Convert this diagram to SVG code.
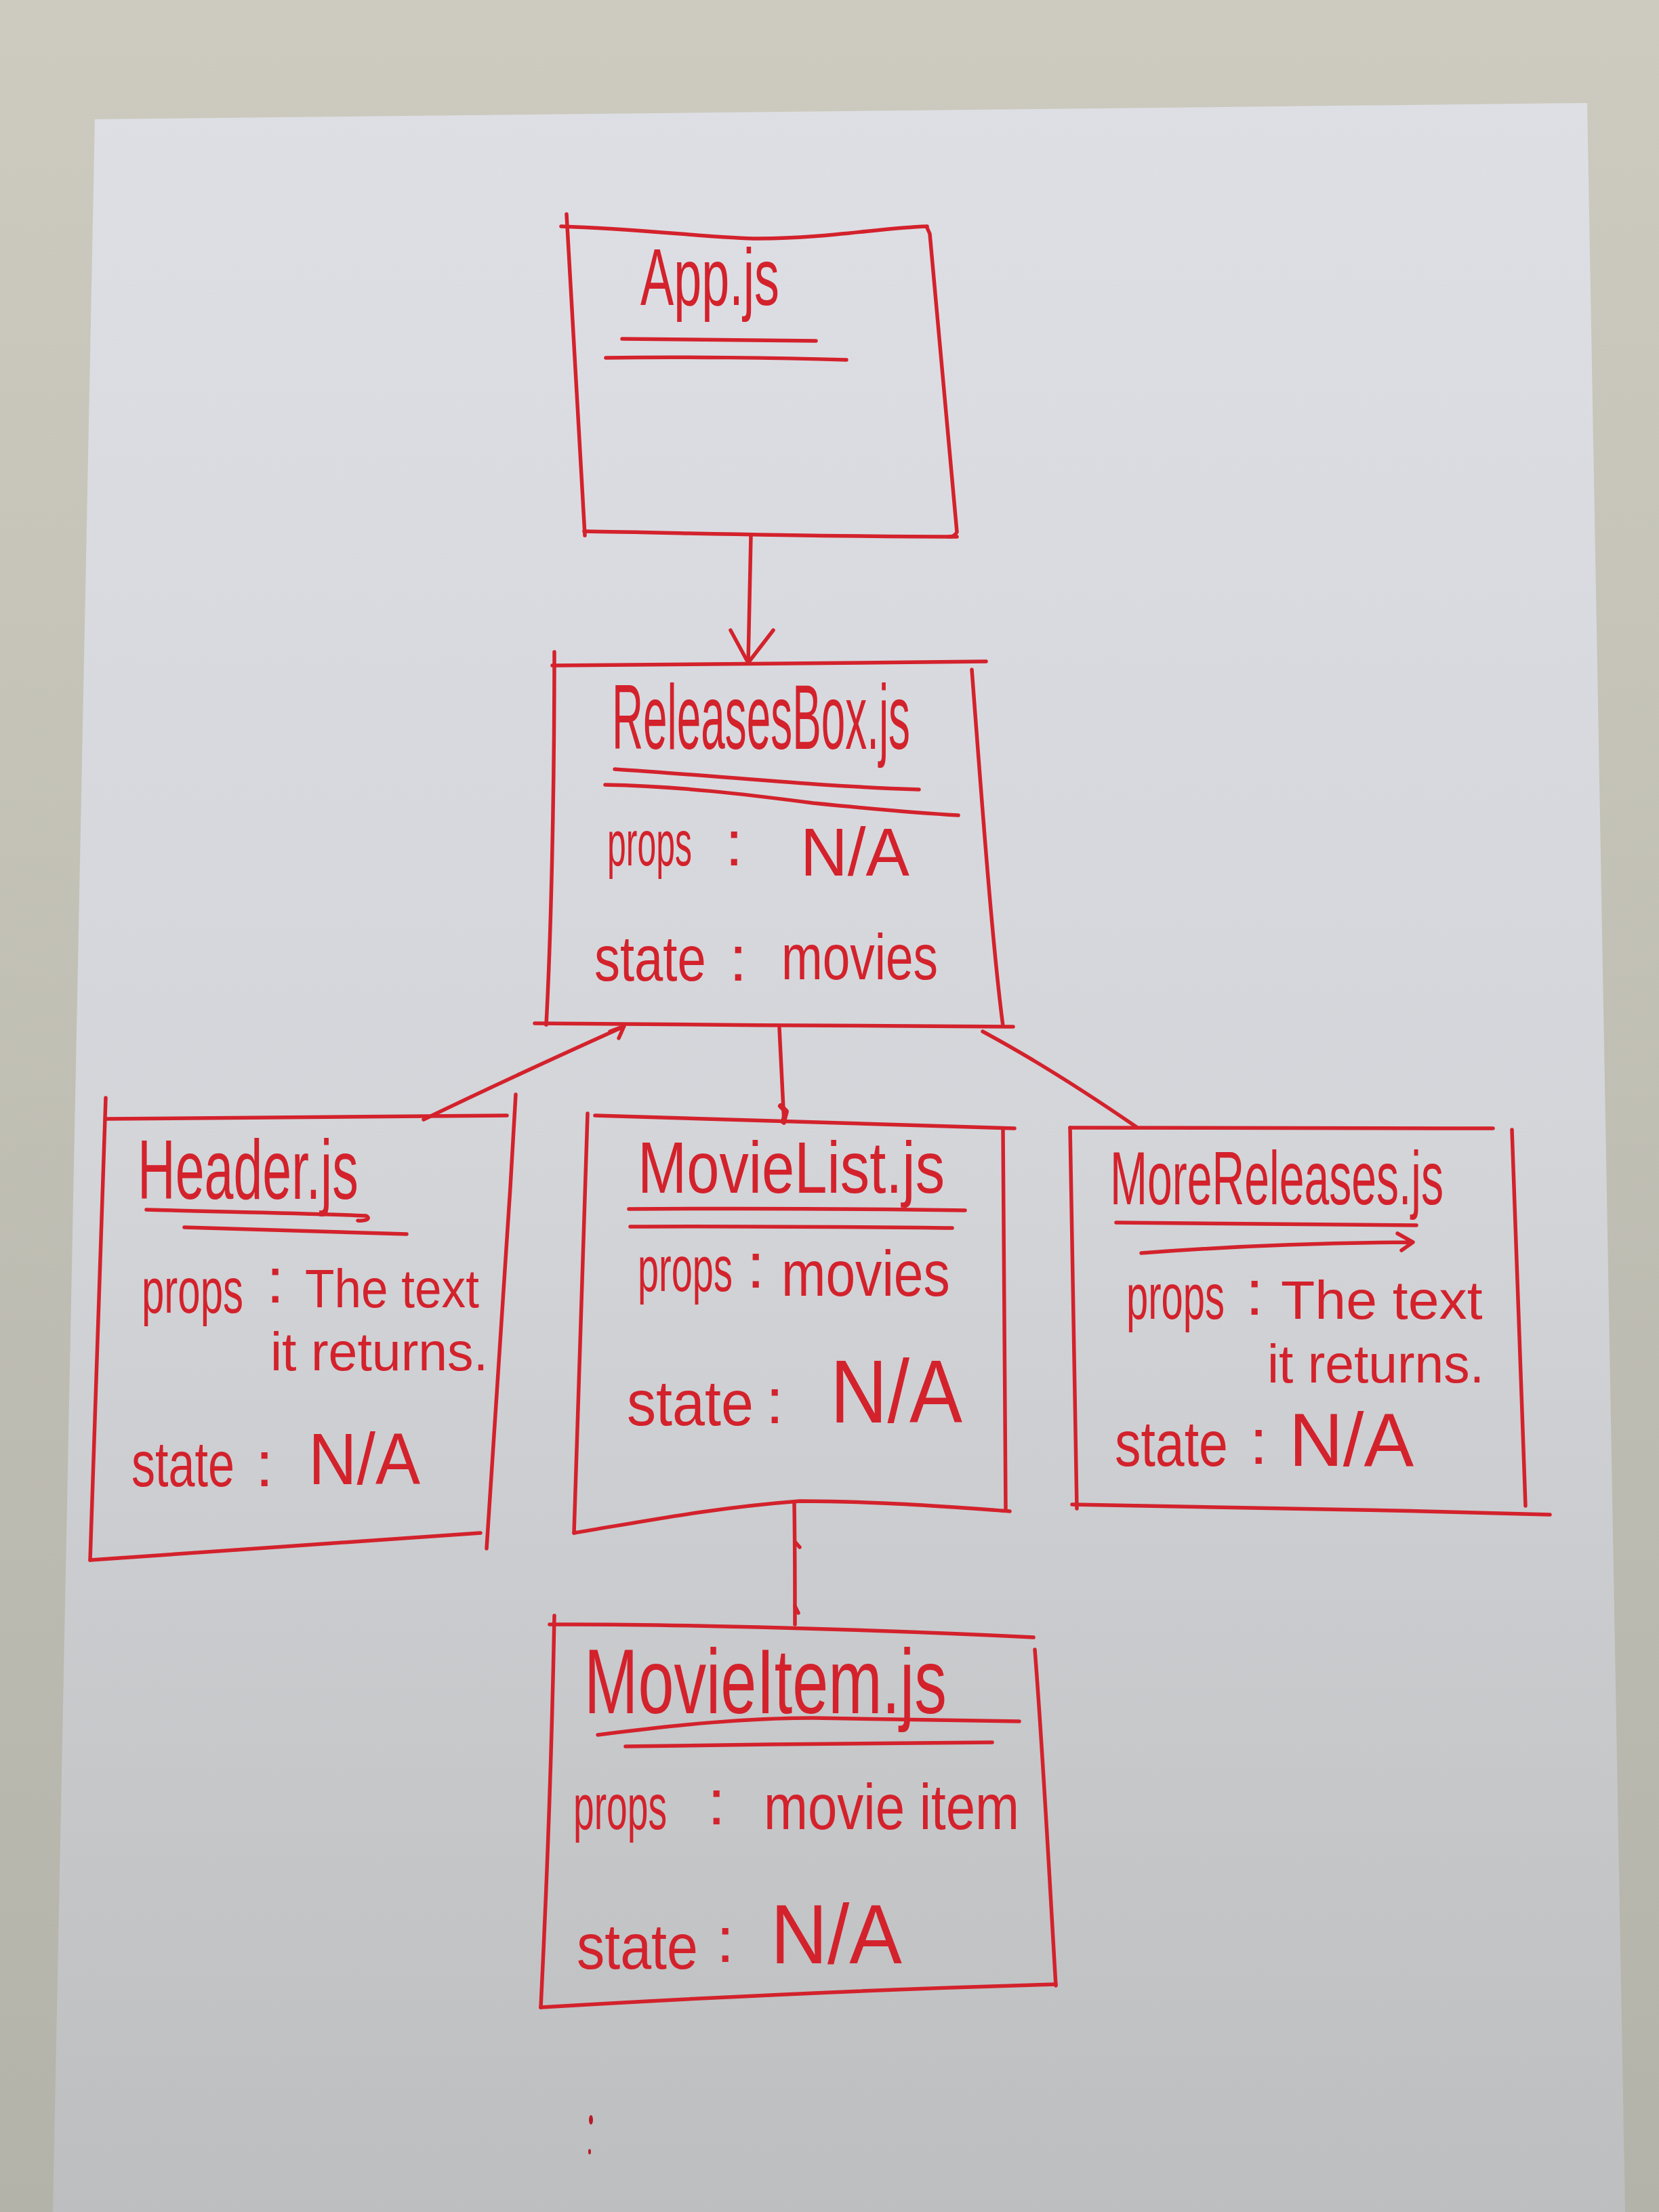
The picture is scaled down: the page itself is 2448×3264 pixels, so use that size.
<svg xmlns="http://www.w3.org/2000/svg" width="2448" height="3264" viewBox="0 0 2448 3264">
  <defs>
    <linearGradient id="wall" x1="0" y1="0" x2="0" y2="1">
      <stop offset="0" stop-color="#cdcbbf"/>
      <stop offset="1" stop-color="#b4b3aa"/>
    </linearGradient>
    <linearGradient id="paper" x1="0" y1="0" x2="0" y2="1">
      <stop offset="0" stop-color="#dedfe5"/>
      <stop offset="0.5" stop-color="#d3d5d9"/>
      <stop offset="1" stop-color="#bdbebf"/>
    </linearGradient>
    <style>
      .pen { fill: none; stroke: #d3222c; stroke-width: 5.5; stroke-linecap: round; stroke-linejoin: round; }
      .ink { fill: #d3222c; font-family: "Liberation Sans", Arial, sans-serif; }
      .body { font-size: 95px; }
      .note { font-size: 80px; }
    </style>
  </defs>

  <!-- wall and sheet of paper -->
  <rect x="0" y="0" width="2448" height="3264" fill="url(#wall)"/>
  <polygon points="140,176 2342,152 2398,3264 78,3264" fill="url(#paper)"/>

  <!-- connectors -->
  <g id="connectors" class="pen">
    <path d="M1108,791 C1107,860 1105,920 1104,978"/>
    <path d="M1078,930 L1104,978 L1141,930"/>
    <path d="M625,1652 C720,1606 820,1560 920,1515"/>
    <path d="M900,1522 L921,1514 L913,1532"/>
    <path d="M1150,1517 C1153,1570 1155,1620 1157,1657"/>
    <path d="M1152,1632 L1160,1640 L1156,1655" stroke-width="8"/>
    <path d="M1450,1522 C1530,1565 1600,1610 1677,1663"/>
    <path d="M1172,2218 C1173,2280 1173,2340 1173,2397"/>
    <path d="M1173,2275 L1180,2283"/>
    <path d="M1173,2370 L1178,2380"/>
  </g>

  <!-- App.js -->
  <g id="node-app">
    <path class="pen" d="M828,334 C950,338 1060,352 1120,352 C1220,352 1300,336 1368,334"/>
    <path class="pen" d="M1368,336 L1372,345 C1385,500 1400,650 1412,785 C1410,790 1405,792 1400,792"/>
    <path class="pen" d="M1412,792 C1200,792 1000,786 862,784"/>
    <path class="pen" d="M863,790 C855,640 845,480 836,316"/>
    <text class="ink" font-size="118" transform="translate(945,450) scale(0.625,1)">App.js</text>
    <path class="pen" d="M918,500 L1204,503"/>
    <path class="pen" d="M894,528 C1000,526 1150,528 1249,531"/>
  </g>

  <!-- ReleasesBox.js -->
  <g id="node-releasesbox">
    <path class="pen" d="M815,982 C1000,981 1250,978 1455,976"/>
    <path class="pen" d="M818,962 C818,1200 812,1400 806,1512"/>
    <path class="pen" d="M1434,988 C1450,1200 1465,1400 1480,1514"/>
    <path class="pen" d="M789,1510 C1000,1512 1300,1514 1495,1515"/>
    <text class="ink" font-size="135" transform="translate(903,1105) scale(0.473,1)">ReleasesBox.js</text>
    <path class="pen" d="M907,1135 C1050,1144 1200,1160 1356,1165"/>
    <path class="pen" d="M893,1158 C1000,1160 1100,1172 1200,1185 C1300,1195 1360,1200 1414,1203"/>
    <text class="ink body" transform="translate(896,1277) scale(0.526,1)">props</text>
    <text class="ink body" x="1070" y="1277">:</text>
    <text class="ink" font-size="100" transform="translate(1181,1292) scale(0.966,1)">N/A</text>
    <text class="ink body" transform="translate(877,1447) scale(0.8,1)">state</text>
    <text class="ink body" x="1076" y="1447">:</text>
    <text class="ink body" transform="translate(1153,1445) scale(0.768,1)">movies</text>
  </g>

  <!-- Header.js -->
  <g id="node-header">
    <path class="pen" d="M156,1651 C400,1648 600,1646 748,1646"/>
    <path class="pen" d="M156,1620 C148,1900 140,2100 133,2302"/>
    <path class="pen" d="M133,2302 C300,2290 500,2275 709,2262"/>
    <path class="pen" d="M761,1615 C748,1850 730,2100 718,2285"/>
    <text class="ink" font-size="125" transform="translate(203,1769) scale(0.617,1)">Header.js</text>
    <path class="pen" d="M216,1785 C320,1788 450,1790 540,1794 C548,1798 540,1802 528,1801"/>
    <path class="pen" d="M272,1811 C400,1814 500,1818 600,1821"/>
    <text class="ink body" transform="translate(209,1937) scale(0.631,1)">props</text>
    <text class="ink body" x="393" y="1922">:</text>
    <text class="ink note" transform="translate(450,1929) scale(0.889,1)">The text</text>
    <text class="ink note" transform="translate(399,2022) scale(0.963,1)">it returns.</text>
    <text class="ink body" transform="translate(194,2193) scale(0.738,1)">state</text>
    <text class="ink body" x="377" y="2193">:</text>
    <text class="ink" font-size="108" transform="translate(455,2190) scale(0.917,1)">N/A</text>
  </g>

  <!-- MovieList.js -->
  <g id="node-movielist">
    <path class="pen" d="M878,1646 C1100,1652 1300,1660 1497,1665"/>
    <path class="pen" d="M867,1643 C860,1900 852,2100 847,2262"/>
    <path class="pen" d="M847,2262 C950,2245 1050,2225 1180,2215 C1300,2215 1420,2225 1490,2230"/>
    <path class="pen" d="M1480,1667 C1483,1900 1483,2100 1484,2226"/>
    <text class="ink" font-size="108" transform="translate(941,1760) scale(0.803,1)">MovieList.js</text>
    <path class="pen" d="M928,1784 C1100,1783 1300,1784 1424,1786"/>
    <path class="pen" d="M930,1810 C1100,1809 1300,1811 1405,1812"/>
    <text class="ink body" transform="translate(941,1905) scale(0.589,1)">props</text>
    <text class="ink body" x="1102" y="1900">:</text>
    <text class="ink body" transform="translate(1153,1912) scale(0.827,1)">movies</text>
    <text class="ink body" transform="translate(925,2103) scale(0.908,1)">state</text>
    <text class="ink body" x="1130" y="2100">:</text>
    <text class="ink" font-size="132" transform="translate(1225,2099) scale(0.886,1)">N/A</text>
  </g>

  <!-- MoreReleases.js -->
  <g id="node-morereleases">
    <path class="pen" d="M1579,1664 C1800,1664 2000,1665 2203,1665"/>
    <path class="pen" d="M1579,1664 C1582,1900 1586,2100 1589,2226"/>
    <path class="pen" d="M1582,2220 C1800,2223 2050,2228 2287,2235"/>
    <path class="pen" d="M2231,1667 C2238,1900 2245,2100 2251,2222"/>
    <text class="ink" font-size="112" transform="translate(1638,1777) scale(0.59,1)">MoreReleases.js</text>
    <path class="pen" d="M1647,1804 C1800,1805 1950,1806 2090,1808"/>
    <path class="pen" d="M1684,1849 C1800,1840 1950,1834 2083,1833 M2062,1820 L2085,1833 L2068,1845"/>
    <text class="ink body" transform="translate(1662,1946) scale(0.61,1)">props</text>
    <text class="ink body" x="1838" y="1940">:</text>
    <text class="ink note" transform="translate(1890,1946) scale(1.03,1)">The text</text>
    <text class="ink note" transform="translate(1870,2040) scale(0.96,1)">it returns.</text>
    <text class="ink body" transform="translate(1645,2163) scale(0.81,1)">state</text>
    <text class="ink body" x="1844" y="2160">:</text>
    <text class="ink" font-size="112" transform="translate(1902,2163) scale(0.986,1)">N/A</text>
  </g>

  <!-- MovieItem.js -->
  <g id="node-movieitem">
    <path class="pen" d="M811,2397 C1000,2396 1300,2405 1525,2416"/>
    <path class="pen" d="M818,2384 C814,2600 806,2800 798,2962"/>
    <path class="pen" d="M798,2962 C1000,2950 1300,2935 1558,2928"/>
    <path class="pen" d="M1527,2434 C1540,2600 1550,2800 1558,2930"/>
    <text class="ink" font-size="135" transform="translate(862,2528) scale(0.706,1)">MovieItem.js</text>
    <path class="pen" d="M882,2560 C1000,2545 1100,2535 1200,2535 C1350,2537 1450,2540 1504,2540"/>
    <path class="pen" d="M923,2577 C1100,2574 1300,2572 1464,2571"/>
    <text class="ink body" transform="translate(846,2699) scale(0.581,1)">props</text>
    <text class="ink body" x="1044" y="2692">:</text>
    <text class="ink body" transform="translate(1127,2699) scale(0.821,1)">movie item</text>
    <text class="ink body" transform="translate(851,2905) scale(0.869,1)">state</text>
    <text class="ink body" x="1057" y="2895">:</text>
    <text class="ink" font-size="125" transform="translate(1137,2897) scale(0.931,1)">N/A</text>
  </g>

  <!-- stray pen marks below the last box -->
  <ellipse cx="872" cy="3128" rx="3" ry="7" fill="#b81a28"/>
  <ellipse cx="870" cy="3175" rx="2" ry="4" fill="#b81a28"/>
</svg>
